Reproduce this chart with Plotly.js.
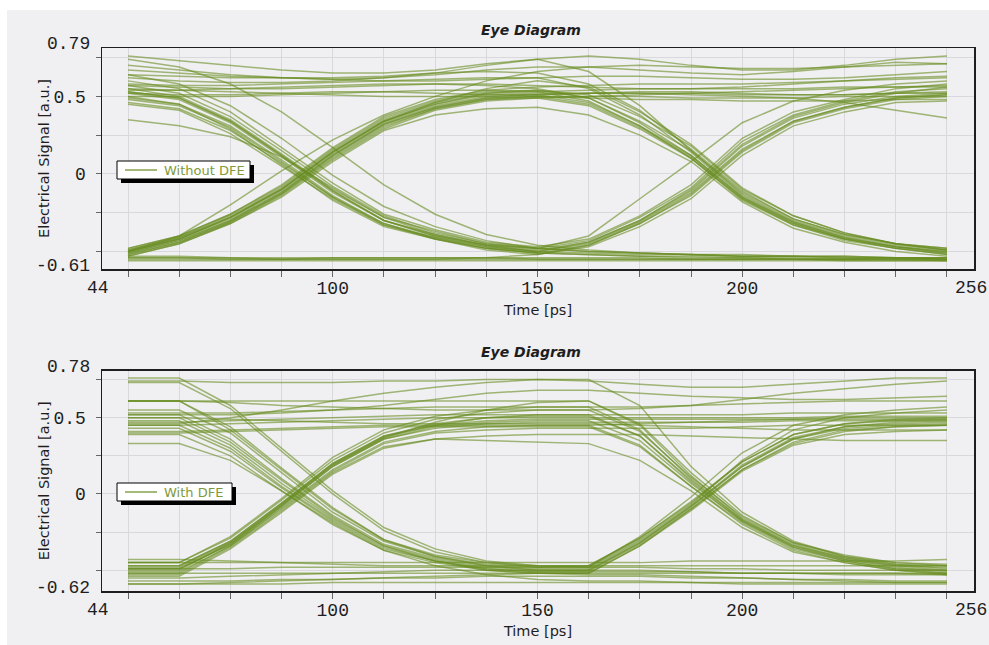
<!DOCTYPE html>
<html>
<head>
<meta charset="utf-8">
<script src="https://cdn.plot.ly/plotly-3.0.1.min.js"></script>
<style>
  html, body { margin: 0; padding: 0; background: #ffffff; }
  #chart { position: absolute; left: 7px; top: 10px; width: 982px; height: 635px; }
</style>
</head>
<body>
<div id="chart"></div>
<script>
// Sample instants shared by every captured waveform segment (ps)
const timePs = [44, 57.25, 70.5, 83.75, 97, 110.25, 123.5, 136.75, 150, 163.25, 176.5, 189.75, 203, 216.25, 229.5, 242.75, 256];

// Tick labels
const xTickText = ['', '', '', '', '100', '', '', '', '150', '', '', '', '200', '', '', '', ''];
const xEndLabels = ['44', '256'];
const yGridVals = [-0.5, -0.25, 0, 0.25, 0.5, 0.75];
const yTickText = ['', '', '0', '', '0.5', ''];
const yEndLabelsTop = [-0.61, 0.79];
const yEndLabelsBottom = [-0.62, 0.78];
const seriesNames = ['Without DFE', 'With DFE'];

// ---------- Without DFE: segments grouped by bit pattern ----------
const withoutDfe111 = [
  [0.76, 0.73, 0.70, 0.67, 0.65, 0.65, 0.67, 0.71, 0.74, 0.76, 0.74, 0.70, 0.67, 0.67, 0.70, 0.74, 0.76],
  [0.70, 0.67, 0.64, 0.62, 0.61, 0.62, 0.64, 0.67, 0.69, 0.69, 0.67, 0.65, 0.64, 0.66, 0.69, 0.72, 0.71],
  [0.64, 0.63, 0.62, 0.62, 0.61, 0.60, 0.60, 0.61, 0.62, 0.63, 0.63, 0.62, 0.61, 0.61, 0.62, 0.64, 0.66],
  [0.57, 0.56, 0.55, 0.55, 0.56, 0.57, 0.58, 0.58, 0.57, 0.56, 0.55, 0.55, 0.56, 0.58, 0.60, 0.62, 0.63],
  [0.52, 0.51, 0.51, 0.52, 0.53, 0.53, 0.52, 0.51, 0.51, 0.52, 0.53, 0.53, 0.52, 0.51, 0.51, 0.52, 0.53],
  [0.55, 0.54, 0.53, 0.52, 0.51, 0.50, 0.50, 0.50, 0.51, 0.52, 0.52, 0.51, 0.50, 0.49, 0.46, 0.41, 0.36]
];
const withoutDfe110 = [
  [0.62, 0.60, 0.59, 0.59, 0.60, 0.62, 0.65, 0.70, 0.74, 0.66, 0.44, 0.15, -0.13, -0.30, -0.40, -0.46, -0.49],
  [0.58, 0.57, 0.57, 0.58, 0.59, 0.60, 0.61, 0.62, 0.62, 0.55, 0.38, 0.14, -0.14, -0.31, -0.41, -0.47, -0.50],
  [0.54, 0.54, 0.55, 0.56, 0.57, 0.58, 0.58, 0.57, 0.55, 0.49, 0.33, 0.12, -0.15, -0.32, -0.42, -0.47, -0.51],
  [0.50, 0.50, 0.50, 0.51, 0.52, 0.53, 0.54, 0.54, 0.53, 0.47, 0.31, 0.10, -0.16, -0.33, -0.43, -0.48, -0.52],
  [0.67, 0.65, 0.63, 0.62, 0.62, 0.63, 0.65, 0.66, 0.65, 0.58, 0.41, 0.16, -0.11, -0.29, -0.39, -0.45, -0.48]
];
const withoutDfe101 = [
  [0.52, 0.48, 0.33, 0.11, -0.12, -0.30, -0.39, -0.46, -0.49, -0.44, -0.30, -0.11, 0.18, 0.36, 0.45, 0.50, 0.52],
  [0.55, 0.50, 0.35, 0.13, -0.10, -0.28, -0.37, -0.45, -0.48, -0.43, -0.28, -0.09, 0.21, 0.38, 0.47, 0.53, 0.55],
  [0.48, 0.44, 0.30, 0.08, -0.15, -0.32, -0.41, -0.48, -0.51, -0.46, -0.32, -0.14, 0.14, 0.33, 0.42, 0.48, 0.50],
  [0.60, 0.55, 0.40, 0.17, -0.06, -0.26, -0.36, -0.44, -0.47, -0.42, -0.27, -0.07, 0.23, 0.40, 0.48, 0.55, 0.58],
  [0.50, 0.45, 0.29, 0.06, -0.17, -0.34, -0.42, -0.49, -0.52, -0.47, -0.34, -0.16, 0.12, 0.31, 0.40, 0.46, 0.47],
  [0.45, 0.41, 0.26, 0.05, -0.16, -0.33, -0.41, -0.47, -0.50, -0.45, -0.31, -0.12, 0.16, 0.34, 0.43, 0.49, 0.51],
  [0.35, 0.31, 0.24, 0.11, -0.09, -0.28, -0.39, -0.46, -0.50, -0.44, -0.30, -0.10, 0.19, 0.37, 0.46, 0.52, 0.56],
  [0.53, 0.49, 0.34, 0.12, -0.11, -0.30, -0.40, -0.46, -0.48, -0.40, -0.16, 0.08, 0.33, 0.47, 0.54, 0.58, 0.60]
];
const withoutDfe100 = [
  [0.53, 0.49, 0.34, 0.12, -0.11, -0.30, -0.40, -0.47, -0.50, -0.51, -0.52, -0.52, -0.53, -0.53, -0.54, -0.54, -0.55],
  [0.57, 0.52, 0.37, 0.15, -0.08, -0.27, -0.38, -0.45, -0.48, -0.50, -0.51, -0.52, -0.53, -0.53, -0.53, -0.54, -0.54],
  [0.49, 0.45, 0.31, 0.09, -0.14, -0.32, -0.42, -0.48, -0.51, -0.52, -0.53, -0.53, -0.54, -0.54, -0.55, -0.55, -0.55],
  [0.64, 0.58, 0.44, 0.23, -0.01, -0.21, -0.34, -0.43, -0.48, -0.50, -0.51, -0.52, -0.52, -0.53, -0.53, -0.54, -0.54],
  [0.74, 0.69, 0.58, 0.40, 0.17, -0.07, -0.26, -0.39, -0.46, -0.49, -0.51, -0.52, -0.53, -0.53, -0.54, -0.54, -0.55],
  [0.46, 0.42, 0.28, 0.07, -0.15, -0.33, -0.42, -0.48, -0.51, -0.52, -0.53, -0.54, -0.54, -0.55, -0.55, -0.55, -0.56]
];
const withoutDfe011 = [
  [-0.50, -0.42, -0.28, -0.10, 0.14, 0.34, 0.45, 0.51, 0.52, 0.52, 0.52, 0.52, 0.51, 0.51, 0.51, 0.52, 0.52],
  [-0.48, -0.40, -0.26, -0.07, 0.17, 0.37, 0.48, 0.54, 0.56, 0.57, 0.58, 0.58, 0.58, 0.59, 0.60, 0.61, 0.62],
  [-0.52, -0.44, -0.31, -0.13, 0.10, 0.30, 0.42, 0.48, 0.50, 0.50, 0.50, 0.49, 0.49, 0.49, 0.50, 0.50, 0.50],
  [-0.49, -0.41, -0.27, -0.09, 0.15, 0.35, 0.46, 0.52, 0.53, 0.54, 0.55, 0.55, 0.55, 0.55, 0.56, 0.56, 0.57],
  [-0.51, -0.43, -0.30, -0.12, 0.12, 0.32, 0.43, 0.49, 0.50, 0.49, 0.48, 0.48, 0.47, 0.47, 0.47, 0.48, 0.48],
  [-0.50, -0.40, -0.20, 0.02, 0.22, 0.38, 0.50, 0.60, 0.66, 0.69, 0.70, 0.69, 0.68, 0.68, 0.69, 0.70, 0.71],
  [-0.53, -0.45, -0.32, -0.14, 0.09, 0.29, 0.41, 0.47, 0.49, 0.50, 0.51, 0.52, 0.53, 0.54, 0.55, 0.56, 0.56]
];
const withoutDfe010 = [
  [-0.50, -0.42, -0.29, -0.11, 0.13, 0.33, 0.44, 0.50, 0.51, 0.46, 0.31, 0.12, -0.15, -0.31, -0.41, -0.47, -0.50],
  [-0.48, -0.40, -0.26, -0.08, 0.16, 0.36, 0.47, 0.53, 0.54, 0.49, 0.34, 0.15, -0.12, -0.29, -0.39, -0.45, -0.48],
  [-0.52, -0.44, -0.31, -0.13, 0.11, 0.31, 0.42, 0.48, 0.49, 0.44, 0.29, 0.10, -0.17, -0.33, -0.42, -0.48, -0.52],
  [-0.49, -0.41, -0.28, -0.10, 0.14, 0.34, 0.45, 0.52, 0.54, 0.51, 0.37, 0.18, -0.10, -0.27, -0.38, -0.45, -0.49],
  [-0.51, -0.43, -0.30, -0.12, 0.12, 0.32, 0.43, 0.49, 0.50, 0.45, 0.30, 0.11, -0.16, -0.32, -0.42, -0.48, -0.51],
  [-0.53, -0.45, -0.32, -0.15, 0.08, 0.28, 0.38, 0.42, 0.43, 0.38, 0.25, 0.08, -0.18, -0.35, -0.44, -0.50, -0.53],
  [-0.50, -0.42, -0.28, -0.10, 0.14, 0.34, 0.46, 0.55, 0.60, 0.56, 0.40, 0.19, -0.09, -0.27, -0.38, -0.45, -0.49]
];
const withoutDfe001 = [
  [-0.54, -0.54, -0.55, -0.55, -0.55, -0.55, -0.55, -0.54, -0.52, -0.46, -0.32, -0.13, 0.15, 0.34, 0.43, 0.49, 0.51]
];
const withoutDfe000 = [
  [-0.54, -0.54, -0.54, -0.55, -0.55, -0.55, -0.55, -0.55, -0.55, -0.55, -0.55, -0.55, -0.55, -0.55, -0.55, -0.54, -0.54],
  [-0.56, -0.56, -0.56, -0.56, -0.56, -0.56, -0.56, -0.56, -0.56, -0.56, -0.56, -0.56, -0.56, -0.56, -0.56, -0.56, -0.56],
  [-0.55, -0.55, -0.55, -0.55, -0.54, -0.54, -0.54, -0.54, -0.54, -0.54, -0.54, -0.55, -0.55, -0.55, -0.55, -0.55, -0.55],
  [-0.53, -0.53, -0.54, -0.54, -0.54, -0.54, -0.54, -0.54, -0.55, -0.55, -0.55, -0.55, -0.55, -0.55, -0.56, -0.56, -0.56]
];

// ---------- With DFE: segments grouped by bit pattern ----------
const withDfe111 = [
  [0.46, 0.46, 0.50, 0.55, 0.61, 0.66, 0.70, 0.73, 0.75, 0.74, 0.72, 0.70, 0.70, 0.72, 0.74, 0.76, 0.76],
  [0.52, 0.52, 0.52, 0.53, 0.55, 0.58, 0.62, 0.66, 0.68, 0.68, 0.66, 0.64, 0.63, 0.62, 0.62, 0.63, 0.64],
  [0.61, 0.61, 0.60, 0.58, 0.57, 0.56, 0.55, 0.55, 0.55, 0.55, 0.56, 0.58, 0.62, 0.66, 0.69, 0.72, 0.74],
  [0.45, 0.45, 0.46, 0.47, 0.48, 0.49, 0.50, 0.50, 0.50, 0.50, 0.50, 0.50, 0.50, 0.50, 0.51, 0.51, 0.51],
  [0.41, 0.41, 0.42, 0.43, 0.44, 0.45, 0.45, 0.45, 0.45, 0.45, 0.46, 0.47, 0.48, 0.49, 0.50, 0.50, 0.50],
  [0.50, 0.50, 0.49, 0.48, 0.47, 0.46, 0.46, 0.46, 0.46, 0.46, 0.45, 0.44, 0.43, 0.42, 0.42, 0.42, 0.42]
];
const withDfe110 = [
  [0.74, 0.74, 0.73, 0.73, 0.73, 0.74, 0.74, 0.75, 0.75, 0.75, 0.58, 0.18, -0.12, -0.31, -0.41, -0.46, -0.49],
  [0.61, 0.61, 0.61, 0.61, 0.61, 0.61, 0.61, 0.61, 0.61, 0.61, 0.45, 0.12, -0.16, -0.33, -0.42, -0.47, -0.50],
  [0.53, 0.53, 0.53, 0.54, 0.55, 0.56, 0.57, 0.57, 0.57, 0.57, 0.42, 0.10, -0.17, -0.34, -0.43, -0.48, -0.51],
  [0.47, 0.47, 0.48, 0.49, 0.50, 0.51, 0.52, 0.52, 0.52, 0.52, 0.38, 0.08, -0.18, -0.35, -0.44, -0.49, -0.52],
  [0.40, 0.40, 0.41, 0.42, 0.43, 0.44, 0.44, 0.44, 0.44, 0.44, 0.31, 0.05, -0.20, -0.37, -0.45, -0.50, -0.53]
];
const withDfe101 = [
  [0.61, 0.61, 0.42, 0.16, -0.10, -0.30, -0.40, -0.45, -0.47, -0.47, -0.29, -0.06, 0.21, 0.39, 0.46, 0.48, 0.49],
  [0.52, 0.52, 0.36, 0.10, -0.14, -0.33, -0.42, -0.47, -0.49, -0.49, -0.31, -0.08, 0.19, 0.37, 0.44, 0.46, 0.47],
  [0.48, 0.48, 0.32, 0.07, -0.16, -0.34, -0.43, -0.48, -0.50, -0.50, -0.32, -0.09, 0.18, 0.36, 0.43, 0.45, 0.46],
  [0.43, 0.43, 0.28, 0.04, -0.18, -0.36, -0.44, -0.49, -0.51, -0.51, -0.33, -0.10, 0.16, 0.34, 0.42, 0.44, 0.45],
  [0.76, 0.76, 0.58, 0.30, 0.02, -0.22, -0.36, -0.44, -0.47, -0.48, -0.30, -0.07, 0.22, 0.42, 0.50, 0.53, 0.55],
  [0.39, 0.39, 0.25, 0.02, -0.20, -0.37, -0.45, -0.50, -0.52, -0.52, -0.34, -0.11, 0.15, 0.32, 0.39, 0.41, 0.42],
  [0.55, 0.55, 0.40, 0.14, -0.12, -0.31, -0.41, -0.46, -0.48, -0.48, -0.28, -0.02, 0.27, 0.45, 0.52, 0.55, 0.57]
];
const withDfe100 = [
  [0.73, 0.73, 0.56, 0.28, 0.00, -0.24, -0.38, -0.45, -0.48, -0.48, -0.48, -0.49, -0.49, -0.50, -0.50, -0.50, -0.50],
  [0.61, 0.61, 0.44, 0.17, -0.09, -0.30, -0.41, -0.47, -0.50, -0.50, -0.50, -0.51, -0.52, -0.52, -0.53, -0.53, -0.53],
  [0.50, 0.50, 0.34, 0.09, -0.15, -0.34, -0.44, -0.50, -0.52, -0.53, -0.53, -0.54, -0.55, -0.56, -0.57, -0.58, -0.58],
  [0.45, 0.45, 0.30, 0.05, -0.17, -0.35, -0.44, -0.49, -0.51, -0.51, -0.51, -0.51, -0.52, -0.52, -0.52, -0.52, -0.53],
  [0.33, 0.33, 0.22, 0.02, -0.19, -0.37, -0.47, -0.53, -0.56, -0.57, -0.57, -0.58, -0.58, -0.58, -0.58, -0.58, -0.58]
];
const withDfe011 = [
  [-0.47, -0.47, -0.31, -0.06, 0.20, 0.38, 0.45, 0.48, 0.49, 0.49, 0.49, 0.49, 0.49, 0.49, 0.49, 0.49, 0.49],
  [-0.49, -0.49, -0.33, -0.08, 0.18, 0.36, 0.43, 0.46, 0.47, 0.47, 0.47, 0.47, 0.47, 0.48, 0.48, 0.48, 0.48],
  [-0.45, -0.45, -0.28, -0.03, 0.24, 0.42, 0.51, 0.55, 0.57, 0.57, 0.57, 0.58, 0.59, 0.60, 0.61, 0.61, 0.61],
  [-0.52, -0.52, -0.34, -0.10, 0.15, 0.33, 0.40, 0.42, 0.43, 0.43, 0.43, 0.43, 0.44, 0.45, 0.45, 0.45, 0.45],
  [-0.50, -0.50, -0.32, -0.07, 0.19, 0.37, 0.45, 0.50, 0.52, 0.52, 0.52, 0.52, 0.52, 0.53, 0.53, 0.53, 0.53],
  [-0.54, -0.54, -0.36, -0.12, 0.13, 0.30, 0.36, 0.38, 0.39, 0.39, 0.39, 0.38, 0.37, 0.36, 0.35, 0.35, 0.35]
];
const withDfe010 = [
  [-0.47, -0.47, -0.31, -0.06, 0.20, 0.38, 0.46, 0.50, 0.51, 0.51, 0.38, 0.09, -0.17, -0.34, -0.42, -0.46, -0.47],
  [-0.49, -0.49, -0.33, -0.08, 0.18, 0.36, 0.44, 0.47, 0.48, 0.48, 0.35, 0.07, -0.18, -0.35, -0.43, -0.47, -0.48],
  [-0.51, -0.51, -0.34, -0.09, 0.16, 0.34, 0.41, 0.44, 0.45, 0.45, 0.32, 0.05, -0.19, -0.36, -0.44, -0.49, -0.50],
  [-0.45, -0.45, -0.29, -0.04, 0.22, 0.40, 0.49, 0.53, 0.55, 0.55, 0.41, 0.11, -0.15, -0.32, -0.40, -0.45, -0.46],
  [-0.53, -0.53, -0.35, -0.11, 0.14, 0.31, 0.36, 0.35, 0.34, 0.33, 0.22, 0.02, -0.22, -0.38, -0.45, -0.50, -0.52],
  [-0.48, -0.48, -0.32, -0.07, 0.19, 0.37, 0.47, 0.55, 0.60, 0.61, 0.46, 0.14, -0.14, -0.32, -0.41, -0.45, -0.47]
];
const withDfe001 = [
  [-0.43, -0.43, -0.44, -0.45, -0.46, -0.47, -0.47, -0.47, -0.47, -0.47, -0.29, -0.05, 0.21, 0.39, 0.46, 0.49, 0.50],
  [-0.55, -0.55, -0.54, -0.53, -0.52, -0.51, -0.50, -0.50, -0.50, -0.50, -0.32, -0.08, 0.18, 0.36, 0.44, 0.47, 0.48],
  [-0.59, -0.59, -0.58, -0.57, -0.56, -0.55, -0.54, -0.53, -0.52, -0.52, -0.34, -0.10, 0.16, 0.33, 0.41, 0.44, 0.45]
];
const withDfe000 = [
  [-0.45, -0.45, -0.45, -0.45, -0.45, -0.45, -0.45, -0.45, -0.45, -0.45, -0.45, -0.44, -0.44, -0.44, -0.44, -0.44, -0.43],
  [-0.49, -0.49, -0.49, -0.48, -0.48, -0.48, -0.48, -0.48, -0.48, -0.47, -0.47, -0.47, -0.47, -0.47, -0.47, -0.47, -0.47],
  [-0.52, -0.52, -0.52, -0.52, -0.52, -0.52, -0.52, -0.52, -0.52, -0.52, -0.52, -0.52, -0.52, -0.52, -0.52, -0.52, -0.52],
  [-0.57, -0.57, -0.57, -0.56, -0.56, -0.55, -0.55, -0.54, -0.54, -0.54, -0.54, -0.55, -0.55, -0.56, -0.56, -0.57, -0.57],
  [-0.59, -0.59, -0.59, -0.59, -0.58, -0.58, -0.58, -0.58, -0.58, -0.58, -0.58, -0.58, -0.59, -0.59, -0.59, -0.59, -0.59]
];

const withoutDfe = [].concat(withoutDfe111, withoutDfe110, withoutDfe101, withoutDfe100,
                             withoutDfe011, withoutDfe010, withoutDfe001, withoutDfe000);
const withDfe = [].concat(withDfe111, withDfe110, withDfe101, withDfe100,
                          withDfe011, withDfe010, withDfe001, withDfe000);

// ---------- styling ----------
const BG = '#f0eff2';
const TRACE_COLOR = 'rgba(104,140,32,0.6)';
const MONO = 'Liberation Mono, Courier New, monospace';
const SANS = 'DejaVu Sans, Verdana, sans-serif';
const INK = '#1e1e1e';

// plot area inside the figure, in page pixels (used for the boxed keys)
const AREA = { left: 102, top: 48, width: 872, height: 543 };
function px2x(px) { return (px - AREA.left) / AREA.width; }
function px2y(py) { return 1 - (py - AREA.top) / AREA.height; }

function eyeTraces(rows, xa, ya, name) {
  return rows.map(function (row) {
    return {
      type: 'scatter', mode: 'lines',
      x: timePs, y: row,
      xaxis: xa, yaxis: ya,
      name: name, showlegend: false,
      line: { color: TRACE_COLOR, width: 1.5 },
      hoverinfo: 'skip'
    };
  });
}

const data = eyeTraces(withoutDfe, 'x', 'y', seriesNames[0])
  .concat(eyeTraces(withDfe, 'x2', 'y2', seriesNames[1]));

function xAxis(anchor) {
  return {
    anchor: anchor, domain: [0, 1],
    range: [37.27, 263],
    tickmode: 'array', tickvals: timePs, ticktext: xTickText,
    ticks: '', ticklabelstandoff: 2,
    minor: { tickmode: 'array', tickvals: timePs, ticks: 'outside', ticklen: 6, tickwidth: 1, tickcolor: '#666', showgrid: false },
    tickfont: { family: MONO, size: 18, color: INK },
    showgrid: true, gridcolor: '#d9d8dc', gridwidth: 1,
    showline: true, linecolor: INK, linewidth: 1.5, mirror: true,
    zeroline: false, fixedrange: true,
    title: { text: 'Time [ps]', font: { family: SANS, size: 14.5, color: INK }, standoff: 6 }
  };
}
function yAxis(anchor, domain, range) {
  return {
    anchor: anchor, domain: domain, range: range,
    tickmode: 'array', tickvals: yGridVals, ticktext: yTickText,
    ticks: 'outside', ticklen: 5, tickwidth: 1, tickcolor: '#666',
    ticklabelstandoff: 6,
    tickfont: { family: MONO, size: 18, color: INK },
    showgrid: true, gridcolor: '#d9d8dc', gridwidth: 1,
    showline: true, linecolor: INK, linewidth: 1.5, mirror: true,
    zeroline: false, fixedrange: true,
    title: { text: 'Electrical Signal [a.u.]', font: { family: SANS, size: 14.5, color: INK }, standoff: 0 }
  };
}

const annotations = [];
const shapes = [];
function titleNote(y) {
  annotations.push({
    text: 'Eye Diagram', xref: 'paper', yref: 'paper', x: 0.492, y: y,
    xanchor: 'center', yanchor: 'middle', showarrow: false,
    font: { family: SANS, size: 14, color: INK, weight: 'bold', style: 'italic' }
  });
}
function endLabels(xa, ya, yEnds, yShifts) {
  // outermost x labels sit beside their ticks
  annotations.push({ text: xEndLabels[0], xref: xa, yref: ya + ' domain', x: timePs[0], y: 0,
    xanchor: 'center', yanchor: 'middle', xshift: -30, yshift: -19, showarrow: false,
    font: { family: MONO, size: 18, color: INK } });
  annotations.push({ text: xEndLabels[1], xref: xa, yref: ya + ' domain', x: timePs[timePs.length - 1], y: 0,
    xanchor: 'center', yanchor: 'middle', xshift: 24, yshift: -19, showarrow: false,
    font: { family: MONO, size: 18, color: INK } });
  // axis extent labels on y
  yEnds.forEach(function (v, i) {
    annotations.push({ text: String(v), xref: xa + ' domain', yref: ya, x: 0, y: v,
      xanchor: 'right', yanchor: 'middle', xshift: -10, yshift: yShifts[i], showarrow: false,
      font: { family: MONO, size: 18, color: INK } });
  });
}
// boxed key with a drop shadow: [left, top, right, bottom] in page pixels
function keyBox(label, box) {
  const l = box[0], t = box[1], r = box[2], b = box[3], mid = (t + b) / 2, off = 4;
  shapes.push({ type: 'rect', xref: 'paper', yref: 'paper', layer: 'above',
    x0: px2x(l + off), x1: px2x(r + off), y0: px2y(b + off), y1: px2y(t + off),
    fillcolor: '#000000', line: { width: 0 } });
  shapes.push({ type: 'rect', xref: 'paper', yref: 'paper', layer: 'above',
    x0: px2x(l), x1: px2x(r), y0: px2y(b), y1: px2y(t),
    fillcolor: '#ffffff', line: { color: '#000000', width: 1 } });
  shapes.push({ type: 'line', xref: 'paper', yref: 'paper', layer: 'above',
    x0: px2x(l + 8), x1: px2x(l + 40), y0: px2y(mid), y1: px2y(mid),
    line: { color: 'rgba(104,140,32,0.8)', width: 1.5 } });
  annotations.push({ text: label, xref: 'paper', yref: 'paper', x: px2x(l + 45), y: px2y(mid),
    xanchor: 'left', yanchor: 'middle', showarrow: false,
    font: { family: SANS, size: 13, color: '#7f9a3a' } });
}

titleNote(1.0331);
titleNote(0.4401);
endLabels('x', 'y', yEndLabelsTop, [3, 7]);
endLabels('x2', 'y2', yEndLabelsBottom, [0.5, 8]);
keyBox(seriesNames[0], [117, 161, 250, 179]);
keyBox(seriesNames[1], [117, 483, 232, 501]);

const layout = {
  width: 982, height: 635,
  margin: { l: 95, r: 15, t: 38, b: 54 },
  paper_bgcolor: BG, plot_bgcolor: BG,
  hovermode: false, dragmode: false, showlegend: false,
  xaxis: xAxis('y'),
  yaxis: yAxis('x', [0.593, 1], [-0.613, 0.812]),
  xaxis2: xAxis('y2'),
  yaxis2: yAxis('x2', [0, 0.4057], [-0.636, 0.808]),
  annotations: annotations,
  shapes: shapes
};

Plotly.newPlot('chart', data, layout, { displayModeBar: false, staticPlot: true });
</script>
</body>
</html>
